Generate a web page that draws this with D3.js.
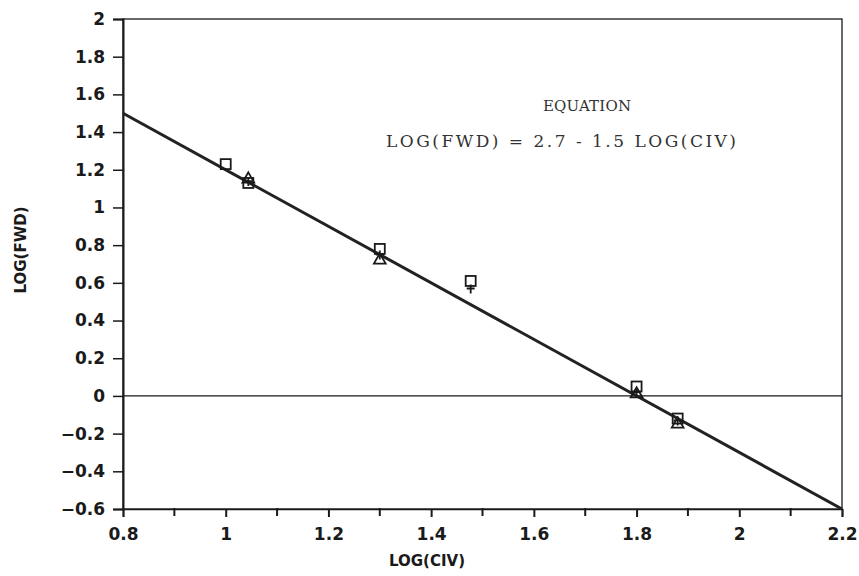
<!DOCTYPE html>
<html>
<head>
<meta charset="utf-8">
<script src="https://cdn.jsdelivr.net/npm/d3@7"></script>
<style>
	body { margin: 0; background: #fff; }
	svg { display: block; }
</style>
</head>
<body>
<svg id="chart"></svg>
<script>
// values
const xTicks = [0.8, 1, 1.2, 1.4, 1.6, 1.8, 2, 2.2];
const xMinorTicks = [0.9, 1.1, 1.3, 1.5, 1.7, 1.9, 2.1];
const yTicks = [2, 1.8, 1.6, 1.4, 1.2, 1, 0.8, 0.6, 0.4, 0.2, 0, -0.2, -0.4, -0.6];
const squarePts = [[1.0, 1.23], [1.044, 1.13], [1.3, 0.78], [1.477, 0.61], [1.8, 0.05], [1.88, -0.12]];
const plusPts = [[1.044, 1.14], [1.3, 0.75], [1.477, 0.57], [1.8, 0.02], [1.88, -0.13]];
const trianglePts = [[1.044, 1.15], [1.3, 0.72], [1.8, 0.01], [1.88, -0.15]];
const fitA = 2.7, fitB = -1.5;
const fitRange = [0.8, 2.2];
const eqTitle = "EQUATION";
const eqText = "LOG(FWD) = 2.7 - 1.5 LOG(CIV)";
const xTitle = "LOG(CIV)";
const yTitle = "LOG(FWD)";

const W = 859, H = 576;
const margin = {top: 19, right: 17, bottom: 67, left: 123};

const svg = d3.select("#chart").attr("width", W).attr("height", H);

const x = d3.scaleLinear().domain([0.8, 2.2]).range([margin.left, W - margin.right]);
const y = d3.scaleLinear().domain([-0.6, 2]).range([H - margin.bottom, margin.top]);

const ink = "#1a1a1a";
const tickFont = "bold 17px 'DejaVu Sans', sans-serif";

// frame
svg.append("rect")
	.attr("x", x(0.8)).attr("y", y(2))
	.attr("width", x(2.2) - x(0.8)).attr("height", y(-0.6) - y(2))
	.attr("fill", "none").attr("stroke", ink).attr("stroke-width", 1.3);

// zero line
svg.append("line")
	.attr("x1", x(0.8)).attr("x2", x(2.2))
	.attr("y1", y(0)).attr("y2", y(0))
	.attr("stroke", ink).attr("stroke-width", 1.2);

// y axis
const yAxis = d3.axisLeft(y).tickValues(yTicks).tickSize(10).tickPadding(8)
	.tickFormat(d => d3.format("")(d).replace("-", "\u2212"));
const gy = svg.append("g").attr("transform", `translate(${x(0.8)},0)`).call(yAxis);
gy.select(".domain").attr("stroke", ink).attr("stroke-width", 2);
gy.selectAll(".tick line").attr("stroke", ink).attr("stroke-width", 1.5);
gy.selectAll("text").style("font", tickFont).attr("fill", ink);

// x axis
const xAxis = d3.axisBottom(x).tickValues(xTicks).tickSize(8).tickPadding(11)
	.tickFormat(d3.format(""));
const gx = svg.append("g").attr("transform", `translate(0,${y(-0.6)})`).call(xAxis);
gx.select(".domain").attr("stroke", ink).attr("stroke-width", 1.5);
gx.selectAll(".tick line").attr("stroke", ink).attr("stroke-width", 2);
gx.selectAll("text").style("font", tickFont).attr("fill", ink);

svg.append("g").selectAll("line")
	.data(xMinorTicks)
	.join("line")
	.attr("x1", d => x(d)).attr("x2", d => x(d))
	.attr("y1", y(-0.6) - 1).attr("y2", y(-0.6) + 7)
	.attr("stroke", ink).attr("stroke-width", 2);

// regression line
svg.append("line")
	.attr("x1", x(fitRange[0])).attr("y1", y(fitA + fitB * fitRange[0]))
	.attr("x2", x(fitRange[1])).attr("y2", y(fitA + fitB * fitRange[1]))
	.attr("stroke", "#222").attr("stroke-width", 3);

// markers
const mk = svg.append("g").attr("fill", "none").attr("stroke", ink).attr("stroke-width", 1.8);
mk.selectAll(".sq").data(squarePts).join("rect")
	.attr("class", "sq")
	.attr("x", d => x(d[0]) - 5).attr("y", d => y(d[1]) - 5)
	.attr("width", 10).attr("height", 10);
mk.selectAll(".pl").data(plusPts).join("path")
	.attr("class", "pl")
	.attr("d", d => `M${x(d[0]) - 4},${y(d[1])}h8M${x(d[0])},${y(d[1]) - 4}v9`);
mk.selectAll(".tr").data(trianglePts).join("path")
	.attr("class", "tr")
	.attr("d", d3.symbol(d3.symbolTriangle, 60))
	.attr("transform", d => `translate(${x(d[0])},${y(d[1])})`);

// equation text (typewriter style)
const eqFont = "'DejaVu Serif', 'Liberation Serif', serif";
svg.append("text")
	.attr("x", 543).attr("y", 111)
	.style("font-family", eqFont).style("font-size", "15px")
	.attr("textLength", 88).attr("lengthAdjust", "spacing")
	.attr("fill", "#333")
	.text(eqTitle);
svg.append("text")
	.attr("x", 386).attr("y", 147)
	.style("font-family", eqFont).style("font-size", "17px")
	.attr("textLength", 350).attr("lengthAdjust", "spacing")
	.attr("fill", "#333")
	.text(eqText);

// axis titles
svg.append("text")
	.attr("x", 427).attr("y", 566)
	.attr("text-anchor", "middle")
	.style("font", "bold 15px 'DejaVu Sans', sans-serif")
	.attr("fill", ink)
	.text(xTitle);
svg.append("text")
	.attr("transform", `translate(26,250) rotate(-90)`)
	.attr("text-anchor", "middle")
	.style("font", "bold 15px 'DejaVu Sans', sans-serif")
	.attr("fill", ink)
	.text(yTitle);
</script>
</body>
</html>
